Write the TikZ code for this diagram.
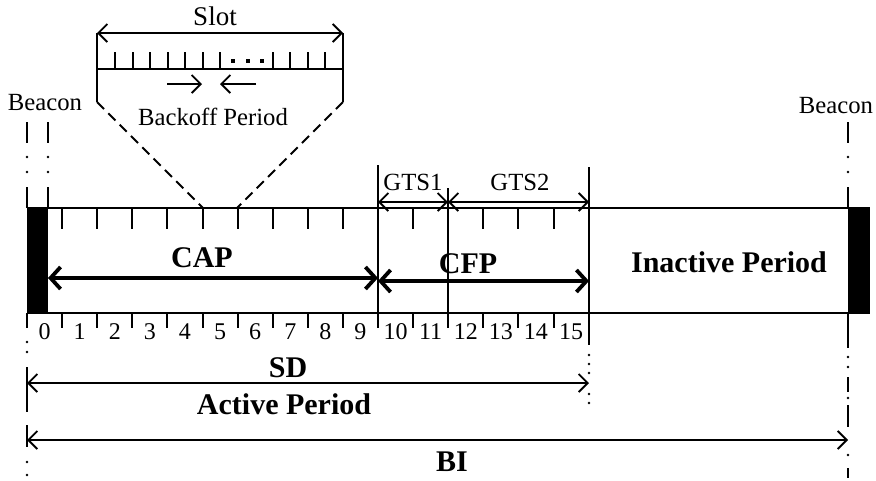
\documentclass[tikz,border=0pt]{standalone}
\usepackage{fontspec}
\setmainfont{Liberation Serif}
\usetikzlibrary{arrows.meta}
\begin{document}
\begin{tikzpicture}[x=1pt,y=-1pt,
  ln/.style={line width=2pt},
  vline/.style={line width=2.8pt},
  thinarrow/.style={line width=1.8pt, {Straight Barb[length=9pt,width=18pt]}-{Straight Barb[length=9pt,width=18pt]}},
  onearrow/.style={line width=1.8pt, -{Straight Barb[length=9pt,width=18pt]}},
  bigarrow/.style={line width=3.8pt, {Straight Barb[length=10pt,width=22pt]}-{Straight Barb[length=10pt,width=22pt]}},
  dashedln/.style={line width=1.8pt, dash pattern=on 10pt off 6pt},
  txt/.style={font=\fontsize{24.7pt}{28pt}\selectfont, inner sep=0pt},
  num/.style={font=\fontsize{24pt}{26pt}\selectfont, inner sep=0pt},
  btxt/.style={font=\fontsize{30pt}{32pt}\selectfont\bfseries, inner sep=0pt},
  dotr/.style={radius=1.4pt}
]
\useasboundingbox (0,0) rectangle (876,480);

% ---------- slot detail ----------
\coordinate (sl) at (97,33);
\coordinate (sr) at (343,33);
\coordinate (sbl) at (97,102);
\coordinate (sbr) at (343,102);
\draw[ln] (sl) -- (sbl);
\draw[ln] (sr) -- (sbr);
\draw[ln] (97,69) -- (343,69);
\foreach \k in {0,...,6,9,10,11,12}
  \draw[ln] ({115+17.5*\k},52) -- ({115+17.5*\k},69);
\foreach \x in {233,248,262}
  \fill (\x-2.2,58.5) rectangle (\x+2.2,63);
\draw[thinarrow] (sl) -- (sr);
\node[txt, font=\fontsize{27pt}{30pt}\selectfont] (slot) at (215,16) {Slot};
\coordinate (bo1) at (167,84);
\coordinate (bo2) at (202,84);
\coordinate (bo3) at (256,84);
\coordinate (bo4) at (220,84);
\draw[onearrow] (bo1) -- (bo2);
\draw[onearrow] (bo3) -- (bo4);
\node[txt] (backoff) at (213,117) {Backoff Period};

% zoom lines to slot 5
\coordinate (z1) at (203,208);
\coordinate (z2) at (237,208);
\draw[dashedln] (sbl) -- (z1);
\draw[dashedln] (sbr) -- (z2);

% ---------- main bar ----------
\fill (27,208) rectangle (48,313);
\fill (848,208) rectangle (870,313);
\draw[ln] (27,208) -- (870,208);
\draw[ln] (27,313) -- (870,313);

% top ticks
\foreach \k in {1,...,9,11,13,14,15}
  \draw[ln] ({27+35.1*\k},208) -- ({27+35.1*\k},229);
% bottom ticks
\foreach \k in {1,...,15}
  \draw[ln] ({27+35.1*\k},313) -- ({27+35.1*\k},328);
% slot numbers
\foreach \k in {0,...,15}
  \node[num] (n\k) at ({27+35.1*(\k+0.5)},332) {\k};

% CFP / GTS boundaries
\coordinate (c10t) at (378,165);
\coordinate (c12t) at (448,188);
\coordinate (c16t) at (589,167);
\draw[vline] (c10t) -- (378,328);
\draw[vline] (c12t) -- (448,328);
\draw[vline] (c16t) -- (589,345);
\foreach \y in {355,364,373,394,403}
  \fill (589,\y) circle[dotr];

% GTS arrows
\coordinate (g1) at (378,202);
\coordinate (g2) at (448,202);
\coordinate (g3) at (589,202);
\draw[thinarrow] (g1) -- (g2);
\draw[thinarrow] (g2) -- (g3);
\node[txt] (gts1) at (413,182) {GTS1};
\node[txt] (gts2) at (520,182) {GTS2};

% CAP / CFP
\coordinate (cap1) at (48,278);
\coordinate (cap2) at (378,278);
\coordinate (cfp1) at (378,281);
\coordinate (cfp2) at (589,281);
\draw[bigarrow] (cap1) -- (cap2);
\draw[bigarrow] (cfp1) -- (cfp2);
\node[btxt] (cap) at (202,258) {CAP};
\node[btxt] (cfp) at (468,264) {CFP};
\node[btxt] (inact) at (729,262) {Inactive Period};

% ---------- beacon lines ----------
\foreach \x in {27,48,848}{
  \draw[vline] (\x,122) -- (\x,143);
  \fill (\x,157) circle[dotr];
  \fill (\x,172) circle[dotr];
  \draw[vline] (\x,187) -- (\x,208);
}
\node[txt] (bl) at (45,103) {Beacon};
\node[txt] (br) at (836,106) {Beacon};

% left line below bar
\draw[vline] (27,313) -- (27,328);
\fill (27,342) circle[dotr];
\fill (27,352) circle[dotr];
\draw[vline] (27,367) -- (27,412);
\draw[vline] (27,425) -- (27,447);
\fill (27,462) circle[dotr];
\fill (27,475) circle[dotr];

% right line below bar
\draw[ln] (848,313) -- (848,348);
\fill (848,357) circle[dotr];
\fill (848,367) circle[dotr];
\draw[ln] (848,377) -- (848,392);
\fill (848,398) circle[dotr];
\draw[vline] (848,405) -- (848,427);
\fill (848,455) circle[dotr];
\draw[vline] (848,468) -- (848,478);

% ---------- SD / BI ----------
\coordinate (sd1) at (27,383);
\coordinate (sd2) at (589,383);
\coordinate (bi1) at (27,440);
\coordinate (bi2) at (848,440);
\draw[thinarrow] (sd1) -- (sd2);
\draw[thinarrow] (bi1) -- (bi2);
\node[btxt] (sd) at (288,368) {SD};
\node[btxt] (active) at (284,404) {Active Period};
\node[btxt] (bi) at (452,462) {BI};
\end{tikzpicture}
\end{document}
